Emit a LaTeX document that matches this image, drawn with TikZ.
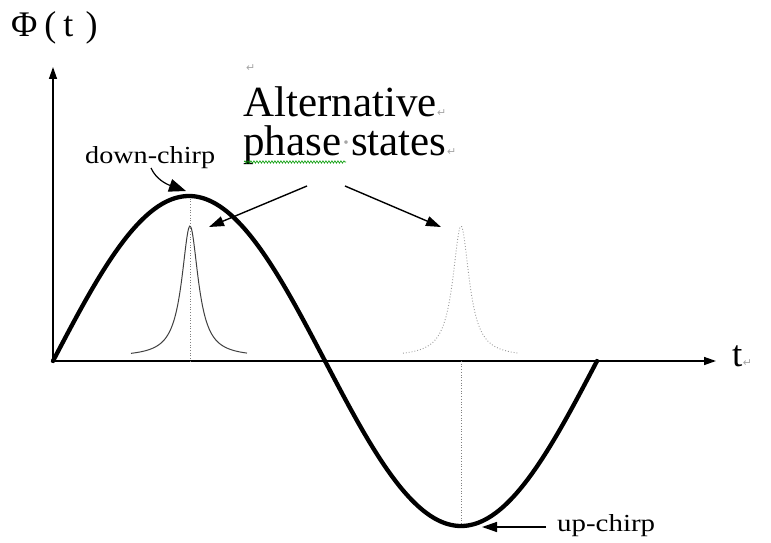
\documentclass[tikz,border=0pt]{standalone}
\usepackage{fontspec}
\setmainfont{Liberation Serif}
\newfontfamily\symfont{DejaVu Sans}
\usetikzlibrary{arrows.meta,decorations.pathmorphing}
\tikzset{
  axisline/.style={line width=1.4pt,-{Triangle[length=12pt,width=8pt]}},
  phasecurve/.style={line width=4.3pt,line join=round,line cap=round},
  pointer/.style={line width=1.4pt,-{Triangle[length=15pt,width=10pt]}},
  bigpointer/.style={line width=1.2pt,-{Triangle[length=17pt,width=13pt]}},
  guide/.style={gray,line width=0.7pt,dotted},
  pulseA/.style={black!75,line width=1pt},
  pulseB/.style={gray!80,line width=0.9pt,dotted},
  parmark/.style={text=gray!70,font=\symfont\fontsize{11}{11}\selectfont,inner sep=0pt},
  lbl/.style={inner sep=0pt},
}
\begin{document}
\begin{tikzpicture}[x=1pt,y=-1pt]
\useasboundingbox (0,0) rectangle (771,543);
% axes
\coordinate (O) at (53,361);
\coordinate (ytip) at (53,67);
\coordinate (xtip) at (716,361);
\draw[axisline] (O) -- (ytip);
\draw[axisline] (O) -- (xtip);
% guide lines
\coordinate (peak) at (190,196);
\coordinate (peakfoot) at (190,361);
\coordinate (trough) at (461,525);
\coordinate (troughtop) at (461,361);
\draw[guide] (peak) -- (peakfoot);
\draw[guide] (troughtop) -- (trough);
% pulses
\draw[pulseA] plot[domain=-59:57,samples=90,smooth] ({190+\x},{357-131/(1+(\x/10)^2)});
\draw[pulseB] plot[domain=-58:58,samples=90,smooth] ({461+\x},{357-131/(1+(\x/10)^2)});
% phase curve
\draw[phasecurve] plot[domain=0:544,samples=120,smooth] ({53+\x},{361-165*sin(0.661765*\x)});
% labels
\node[lbl,anchor=base west] (phi) at (11,37) {\fontsize{36}{40}\selectfont \char"03A6\hspace{7pt}(\hspace{7pt}t\hspace{12pt})};
\node[lbl,anchor=base west] (tlbl) at (732,366) {\fontsize{37}{40}\selectfont t};
\node[parmark,anchor=base west] at (tlbl.base east) {↵};
\node[parmark,anchor=base west] (pm0) at (246,72) {↵};
\node[lbl,anchor=base west] (alt1) at (243,116) {\fontsize{43}{45}\selectfont Alternative};
\node[parmark,anchor=base west] at (alt1.base east) {↵};
\node[lbl,anchor=base west] (alt2) at (243,155) {\fontsize{43}{45}\selectfont phase{\color{gray!70}\fontsize{30}{30}\selectfont\raisebox{3pt}{·}}states};
\node[parmark,anchor=base west] at (alt2.base east) {↵};
\draw[green!60!black,line width=0.6pt,decorate,decoration={snake,amplitude=1.2pt,segment length=3pt}] (alt2.base west) ++(1,7) -- ++(102,0);
\node[lbl,anchor=base west] (down) at (85,163) {\scalebox{1.15}[1]{\fontsize{24.5}{26}\selectfont down-chirp}};
\node[lbl,anchor=base west] (up) at (557,531) {\scalebox{1.18}[1]{\fontsize{24.5}{26}\selectfont up-chirp}};
% arrows
\coordinate (downstart) at (151,168);
\coordinate (downtip) at (186,191);
\draw[bigpointer] (downstart) .. controls (156,179) and (166,184) .. (downtip);
\coordinate (altA) at (307,186);
\coordinate (altB) at (345,186);
\coordinate (pulseAtip) at (209,227);
\coordinate (pulseBtip) at (441,227);
\draw[pointer] (altA) -- (pulseAtip);
\draw[pointer] (altB) -- (pulseBtip);
\coordinate (upstart) at (546,527);
\coordinate (uptip) at (482,527);
\draw[pointer] (upstart) -- (uptip);
\end{tikzpicture}
\end{document}
